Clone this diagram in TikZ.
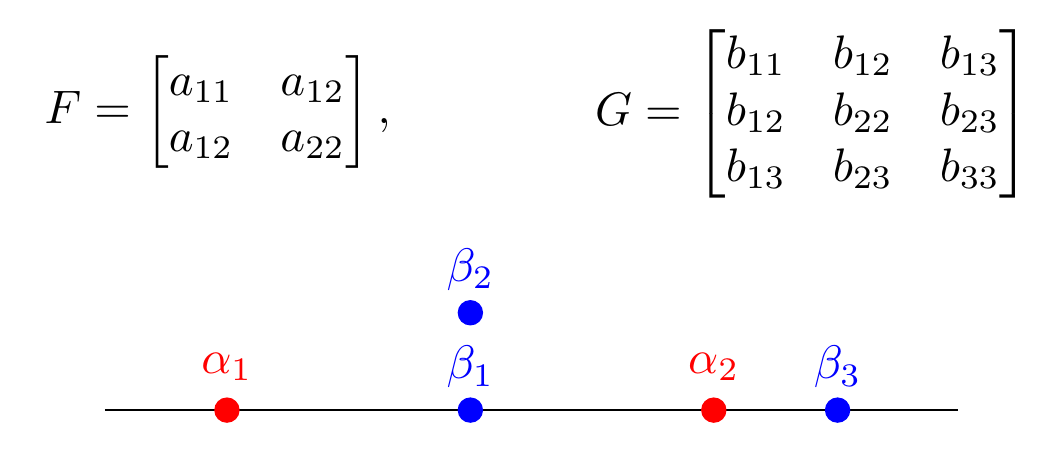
\documentclass[tikz,border=0pt]{standalone}
\usepackage{amsmath}
\usepackage{amssymb}
\usepackage{tikz}
\usetikzlibrary{calc}

\begin{document}
\begin{tikzpicture}[every node/.style={scale=1.62},
reddot/.style={circle,fill=red,inner sep=0pt,minimum size=0.19cm},
bluedot/.style={circle,fill=blue,inner sep=0pt,minimum size=0.19cm}]
\useasboundingbox (0,0) rectangle (12.7,5.49);
% matrices
\node [anchor=west,inner sep=0pt] (matF) at (0.53,4.13) {$F = \begin{bmatrix} a_{11} & a_{12}\\ a_{12} & a_{22}\end{bmatrix},$};
\node [anchor=west,inner sep=0pt] (matG) at (7.2,4.11) {$G = \begin{bmatrix} b_{11} & b_{12} & b_{13}\\ b_{12} & b_{22} & b_{23}\\ b_{13} & b_{23} & b_{33}\end{bmatrix}$};

% real line
\coordinate (lineL) at (1.27,0.52);
\coordinate (lineR) at (11.61,0.52);
\draw [-,line width=0.6pt] (lineL) -- (lineR);

\node [reddot] (a1) at (2.75,0.52) {};
\node [bluedot] (b1) at (5.70,0.52) {};
\node [bluedot] (b2) at (5.70,1.70) {};
\node [reddot] (a2) at (8.65,0.52) {};
\node [bluedot] (b3) at (10.15,0.52) {};

\node [red] (la1) at (2.75,1.04) {$\alpha_1$};
\node [blue] (lb1) at (5.70,1.04) {$\beta_1$};
\node [blue] (lb2) at (5.70,2.22) {$\beta_2$};
\node [red] (la2) at (8.65,1.04) {$\alpha_2$};
\node [blue] (lb3) at (10.15,1.04) {$\beta_3$};
\end{tikzpicture}
\end{document}
